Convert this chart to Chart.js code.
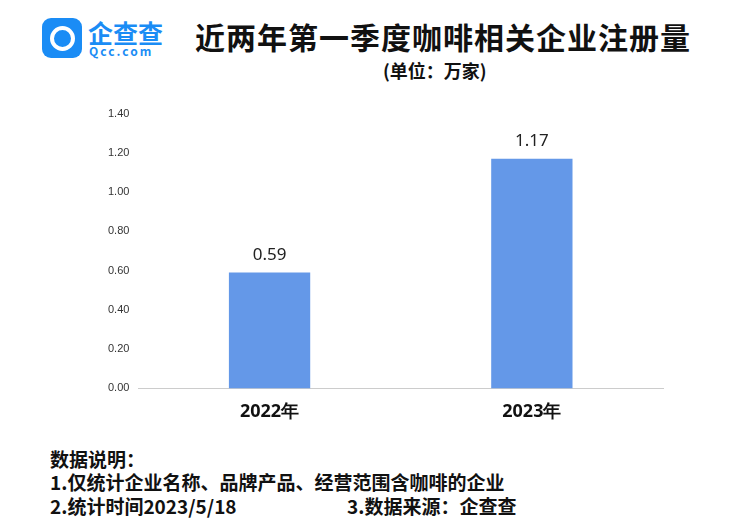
<!DOCTYPE html>
<html><head><meta charset="utf-8">
<script src="https://cdn.jsdelivr.net/npm/chart.js@4"></script>
<style>
body{margin:0;width:737px;height:529px;background:#fff;font-family:"Noto Sans CJK SC","Noto Sans",sans-serif;position:relative;overflow:hidden}
.abs{position:absolute}
#logo{left:42px;top:18px;width:40px;height:40px;border-radius:9px;background:#1a8cf5}
#logo .ring{position:absolute;left:8px;top:8px;width:17px;height:17px;border:4px solid #fff;border-radius:50%}
#title{left:195px;top:14px;font-size:30px;font-weight:bold;color:#111;letter-spacing:1px;white-space:nowrap}
#unit{left:383px;top:57px;font-size:18px;font-weight:bold;color:#111}
.foot{left:50px;font-size:19px;font-weight:bold;color:#111;white-space:nowrap}
#wrap{left:90px;top:98px;width:590px;height:330px}
</style></head><body>
<div id="logo" class="abs"><div class="ring"></div></div>
<div class="abs" style="left:88px;top:14px;font-size:25px;font-weight:bold;color:#1a8cf5">企查查</div>
<div class="abs" style="left:89px;top:42px;font-size:12px;font-weight:bold;color:#1a8cf5;letter-spacing:2px">Qcc.com</div>
<div id="title" class="abs">近两年第一季度咖啡相关企业注册量</div>
<div id="unit" class="abs">(单位：万家)</div>
<div id="wrap" class="abs"><canvas id="c"></canvas></div>
<div class="abs foot" style="top:445px">数据说明：</div>
<div class="abs foot" style="top:468px">1.仅统计企业名称、品牌产品、经营范围含咖啡的企业</div>
<div class="abs foot" style="top:492px">2.统计时间2023/5/18</div>
<div class="abs foot" style="top:492px;left:347px">3.数据来源：企查查</div>
<script>
const categories=["2022年","2023年"];
const values=[0.59,1.17];
const ticks=[0,0.2,0.4,0.6,0.8,1.0,1.2,1.4];
const labelPlugin={id:'lbl',afterDatasetsDraw(ch){const ctx=ch.ctx;ch.getDatasetMeta(0).data.forEach((b,i)=>{ctx.save();ctx.font='17px "Noto Sans",sans-serif';ctx.fillStyle='#222';ctx.textAlign='center';ctx.textBaseline='bottom';ctx.fillText(values[i].toFixed(2),b.x,b.y-9);ctx.restore();});}};
new Chart(document.getElementById('c'),{type:'bar',data:{labels:categories,datasets:[{data:values,backgroundColor:'#6498e8',barPercentage:0.62,categoryPercentage:0.5}]},
options:{responsive:true,maintainAspectRatio:false,animation:false,layout:{padding:{top:8,right:17,left:9}},
plugins:{legend:{display:false},tooltip:{enabled:false}},
scales:{x:{grid:{display:false},border:{color:'#ccc'},ticks:{color:'#111',font:{size:18,weight:'bold',family:'"Noto Sans",sans-serif'},padding:5}},
y:{min:0,max:1.4,afterBuildTicks(a){a.ticks=ticks.map(v=>({value:v}));},grid:{display:false,drawTicks:false},border:{display:false},ticks:{color:'#333',padding:9,font:{size:11,family:'"Liberation Sans",sans-serif'},callback:v=>v.toFixed(2)}}}},
plugins:[labelPlugin]});
</script></body></html>
